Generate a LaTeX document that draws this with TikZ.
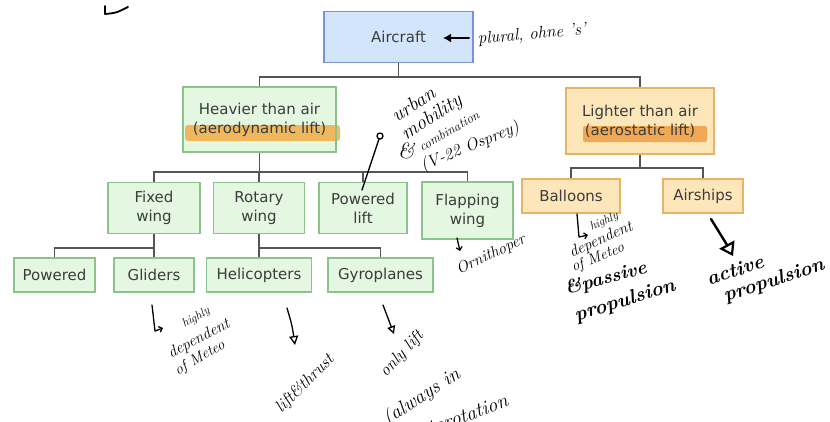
\documentclass[tikz,border=0pt]{standalone}
\usepackage{fontspec}
\newfontfamily\boxfont{DejaVu Sans}
\usetikzlibrary{arrows.meta}
\pgfdeclarelayer{background}
\pgfsetlayers{background,main}
\definecolor{txt}{HTML}{3C3C3C}
\definecolor{bluebd}{HTML}{7B93D4}
\definecolor{bluefill}{HTML}{D3E5FB}
\definecolor{greenbd}{HTML}{8CC28C}
\definecolor{greenfill}{HTML}{E3F7E1}
\definecolor{orangebd}{HTML}{E7B467}
\definecolor{orangefill}{HTML}{FDE6BA}
\definecolor{linec}{HTML}{555555}
\definecolor{hlA}{HTML}{F2A93B}
\definecolor{hlB}{HTML}{EC9434}
\newcommand\hsz[1]{\itshape\fontsize{#1}{#1}\selectfont}
\begin{document}
\begin{tikzpicture}[x=1pt,y=-1pt,
  box/.style={draw, line width=1.1pt, inner sep=0pt, align=center,
    font=\boxfont\fontsize{15}{19}\selectfont, text=txt},
  bluebox/.style={box, draw=bluebd, fill=bluefill},
  greenbox/.style={box, draw=greenbd, fill=greenfill},
  orangebox/.style={box, draw=orangebd, fill=orangefill},
  conn/.style={draw=linec, line width=1.2pt},
  hand/.style={text=black, inner sep=0pt},
  pen/.style={draw=black, line width=1.3pt, line cap=round, line join=round},
]
\useasboundingbox (0,0) rectangle (830,421);
\begin{pgfonlayer}{background}
\fill[white] (0,0) rectangle (830,421);
\end{pgfonlayer}

% boxes
\node[bluebox, minimum width=149, minimum height=51] (air) at (398.5,37) {Aircraft};
\node[box, draw=greenbd, minimum width=153, minimum height=65] (heavy) at (259.5,119.5) {Heavier than air\\(aerodynamic lift)};
\node[box, draw=orangebd, minimum width=148, minimum height=66] (light) at (640,121) {Lighter than air\\(aerostatic lift)};
\node[greenbox, minimum width=92, minimum height=51] (fixed) at (154,208) {Fixed\\wing};
\node[greenbox, minimum width=91, minimum height=51] (rotary) at (259,208) {Rotary\\wing};
\node[greenbox, minimum width=88, minimum height=51] (plift) at (363,208) {Powered\\lift};
\node[greenbox, minimum width=91, minimum height=57] (flap) at (467.5,210.5) {Flapping\\wing};
\node[orangebox, minimum width=98, minimum height=34] (ball) at (571,196) {Balloons};
\node[orangebox, minimum width=80, minimum height=34] (airsh) at (703,196) {Airships};
\node[greenbox, minimum width=81, minimum height=34] (pow) at (54.5,275) {Powered};
\node[greenbox, minimum width=80, minimum height=34] (glid) at (154,275) {Gliders};
\node[greenbox, minimum width=105, minimum height=34] (heli) at (259,275) {Helicopters};
\node[greenbox, minimum width=105, minimum height=34] (gyro) at (380.5,275) {Gyroplanes};

% box fills and highlighter marks behind the text
\begin{pgfonlayer}{background}
\fill[greenfill] (heavy.south west) rectangle (heavy.north east);
\fill[orangefill] (light.south west) rectangle (light.north east);
\fill[hlA, opacity=0.8, rounded corners=3] (185,125) rectangle (340,141);
\fill[hlB, opacity=0.75, rounded corners=2] (583,126) rectangle (707,142);
\end{pgfonlayer}

% connectors
\coordinate (b1) at (0,77);
\coordinate (b2) at (0,172);
\coordinate (b3) at (0,168);
\coordinate (b4) at (0,248);
\draw[conn] (air.south) -- (air.south |- b1);
\draw[conn] (heavy.north) -- (heavy.north |- b1) -- (light.north |- b1) -- (light.north);
\draw[conn] (heavy.south) -- (heavy.south |- b2);
\draw[conn] (fixed.north) -- (fixed.north |- b2) -- (flap.north |- b2) -- (flap.north);
\draw[conn] (rotary.north) -- (rotary.north |- b2);
\draw[conn] (plift.north) -- (plift.north |- b2);
\draw[conn] (light.south) -- (light.south |- b3);
\draw[conn] (ball.north) -- (ball.north |- b3) -- (airsh.north |- b3) -- (airsh.north);
\draw[conn] (fixed.south) -- (fixed.south |- b4);
\draw[conn] (pow.north) -- (pow.north |- b4) -- (glid.north |- b4) -- (glid.north);
\draw[conn] (rotary.south) -- (rotary.south |- b4);
\draw[conn] (heli.north) -- (heli.north |- b4) -- (gyro.north |- b4) -- (gyro.north);

% handwritten notes
\draw[pen, line width=1.8pt] (105,6) -- (105,14) .. controls (116,13) .. (128,7);

\coordinate (p1) at (469,38);
\coordinate (p2) at (443,38);
\draw[pen, line width=2pt, -{Latex[length=8pt,width=9pt]}] (p1) -- (p2);
\node[hand, rotate=5, font=\hsz{17}] (t1) at (532,35) {plural, ohne 's'};

\coordinate (q1) at (362,190);
\coordinate (q2) at (379,139);
\draw[pen] (q1) -- (q2);
\draw[pen] (380,136) circle (3);
\node[hand, rotate=33, font=\hsz{20}] (u1) at (413,104) {urban};
\node[hand, rotate=33, font=\hsz{20}] (u2) at (432,118) {mobility};
\node[hand, font=\hsz{22}] (u3) at (406,151) {\&};
\node[hand, rotate=30, font=\hsz{13}] (u4) at (449,131) {combination};
\node[hand, rotate=22, font=\hsz{17}] (u5) at (470,147) {(V-22 Osprey)};

\coordinate (f1) at (457,238);
\coordinate (f2) at (460,251);
\draw[pen, -{Straight Barb[length=3pt]}] (f1) -- (f2);
\node[hand, rotate=25, font=\hsz{16}] (orn) at (491,255) {Ornithoper};

\coordinate (g1) at (577,214);
\coordinate (g2) at (579,237);
\coordinate (g3) at (588,235);
\draw[pen, -{Straight Barb[length=3pt]}] (g1) -- (g2) -- (g3);
\node[hand, rotate=25, font=\hsz{12}] (bh) at (604,222) {highly};
\node[hand, rotate=24, font=\hsz{16}] (bd) at (601,240) {dependent};
\node[hand, rotate=22, font=\hsz{15}] (bm) at (598,258) {of Meteo};
\node[hand, rotate=15, font=\hsz{19}\bfseries] (bp) at (606,279) {\&passive};
\node[hand, rotate=17, font=\hsz{20}\bfseries] (bq) at (625,301) {propulsion};

\coordinate (h1) at (711,219);
\coordinate (h2) at (733,256);
\draw[pen, line width=2.4pt, -{Triangle[open,length=13pt,width=17pt,line width=2.2pt]}] (h1) .. controls (720,232) .. (h2);
\node[hand, rotate=18, font=\hsz{20}\bfseries] (ac) at (735,270) {active};
\node[hand, rotate=18, font=\hsz{20}\bfseries] (ap) at (774,281) {propulsion};

\coordinate (k1) at (152,305);
\coordinate (k2) at (155,331);
\coordinate (k3) at (163,328);
\draw[pen, -{Straight Barb[length=3pt]}] (k1) -- (k2) -- (k3);
\node[hand, rotate=30, font=\hsz{12}] (gh) at (196,318) {highly};
\node[hand, rotate=28, font=\hsz{16}] (gd) at (199,339) {dependent};
\node[hand, rotate=30, font=\hsz{15}] (gm) at (200,358) {of Meteo};

\coordinate (m1) at (287,308);
\coordinate (m2) at (295,345);
\draw[pen, -{Triangle[open,length=9pt,width=9pt]}] (m1) .. controls (292,325) .. (m2);
\node[hand, rotate=45, font=\hsz{17}] (lt) at (305,384) {lift\&thrust};

\coordinate (n1) at (383,305);
\coordinate (n2) at (394,334);
\draw[pen, -{Triangle[open,length=8pt,width=8pt]}] (n1) -- (n2);
\node[hand, rotate=47, font=\hsz{17}] (ol) at (402,354) {only lift};
\node[hand, rotate=33, font=\hsz{20}] (al) at (422,397) {(always in};
\node[hand, rotate=20, font=\hsz{20}] (ar) at (458,418) {autorotation};
\end{tikzpicture}
\end{document}
